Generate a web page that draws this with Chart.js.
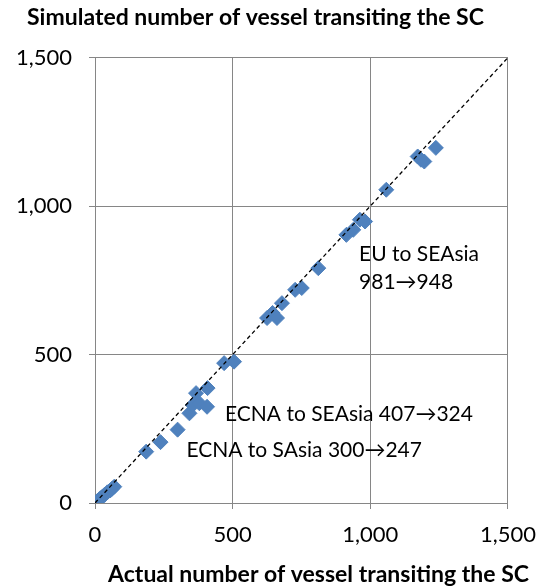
<!DOCTYPE html>
<html>
<head>
<meta charset="utf-8">
<script src="https://cdn.jsdelivr.net/npm/chart.js@4.4.1/dist/chart.umd.min.js"></script>
<style>
  html, body { margin: 0; padding: 0; background: #fff; }
  #wrap { width: 549px; height: 587px; }
</style>
</head>
<body>
<div id="wrap"><canvas id="scatter"></canvas></div>
<script>
// actual vs simulated vessel counts
const actual    = [0, 5, 10, 15, 20, 28, 35, 45, 55, 62, 70,
                   186, 238, 300, 343, 355, 367, 379, 409, 407, 469, 505,
                   625, 645, 661, 679, 727, 751, 811,
                   913, 938, 962, 981, 1058, 1172, 1184, 1196, 1238];
const simulated = [0, 3, 8, 12, 16, 22, 28, 36, 42, 48, 55,
                   173, 205, 247, 302, 330, 370, 336, 387, 324, 471, 476,
                   623, 640, 623, 673, 718, 724, 791,
                   903, 920, 954, 948, 1055, 1167, 1156, 1150, 1196];
const diagonal = [0, 1500];
const tickValues = [0, 500, 1000, 1500];
const notes = ["EU to SEAsia", "981\u2192948", "ECNA to SEAsia 407\u2192324", "ECNA to SAsia 300\u2192247"];
const chartTitle = "Simulated number of vessel transiting the SC";
const xTitle = "Actual number of vessel transiting the SC";

const FONT = "Lato";
const gridColor = "#868686";

const notesPlugin = {
  id: "notes",
  afterDatasetsDraw(chart) {
    const { ctx, scales: { x, y }, chartArea } = chart;
    // anchor of each note, in data units
    const anchors = [[959, 839], [959, 745], [472, 300], [332, 179]];
    ctx.save();
    ctx.fillStyle = "#000";
    ctx.textBaseline = "middle";
    ctx.textAlign = "left";
    ctx.font = "21px " + FONT;
    notes.forEach((t, i) => {
      ctx.fillText(t, x.getPixelForValue(anchors[i][0]), y.getPixelForValue(anchors[i][1]));
    });
    ctx.font = "bold 23px " + FONT;
    ctx.textAlign = "right";
    ctx.fillText(xTitle, chartArea.right + 21, 575);
    ctx.restore();
  }
};

new Chart(document.getElementById("scatter"), {
  type: "scatter",
  data: {
    datasets: [
      {
        label: "1:1",
        data: diagonal.map(v => ({ x: v, y: v })),
        showLine: true,
        borderColor: "#000",
        borderWidth: 1.3,
        borderDash: [4, 3],
        pointRadius: 0,
        order: 0
      },
      {
        label: "vessels",
        data: actual.map((v, i) => ({ x: v, y: simulated[i] })),
        pointStyle: "rectRot",
        pointRadius: 7.5,
        backgroundColor: "#4F81BD",
        borderColor: "#4F81BD",
        borderWidth: 1,
        order: 1
      }
    ]
  },
  options: {
    responsive: true,
    maintainAspectRatio: false,
    animation: false,
    layout: { padding: { top: 0, right: 38, bottom: 0, left: 0 } },
    plugins: {
      legend: { display: false },
      tooltip: { enabled: false },
      title: {
        display: true,
        text: chartTitle,
        color: "#000",
        font: { family: FONT, size: 23, weight: "bold" },
        padding: { top: 4, bottom: 26 }
      }
    },
    scales: {
      x: {
        type: "linear",
        min: 0,
        max: 1500,
        afterBuildTicks: s => { s.ticks = tickValues.map(v => ({ value: v })); },
        afterFit: s => { s.height = 84; },
        ticks: {
          color: "#000",
          font: { family: FONT, size: 22 },
          padding: 13,
          callback: v => v.toLocaleString("en-US")
        },
        grid: { color: gridColor, tickLength: 6, lineWidth: 1 },
        border: { color: gridColor }
      },
      y: {
        type: "linear",
        min: 0,
        max: 1500,
        afterBuildTicks: s => { s.ticks = tickValues.map(v => ({ value: v })); },
        afterFit: s => { s.width = 95; },
        ticks: {
          color: "#000",
          font: { family: FONT, size: 22 },
          padding: 17,
          callback: v => v.toLocaleString("en-US")
        },
        grid: { color: gridColor, tickLength: 6, lineWidth: 1 },
        border: { color: gridColor }
      }
    }
  },
  plugins: [notesPlugin]
});
</script>
</body>
</html>
